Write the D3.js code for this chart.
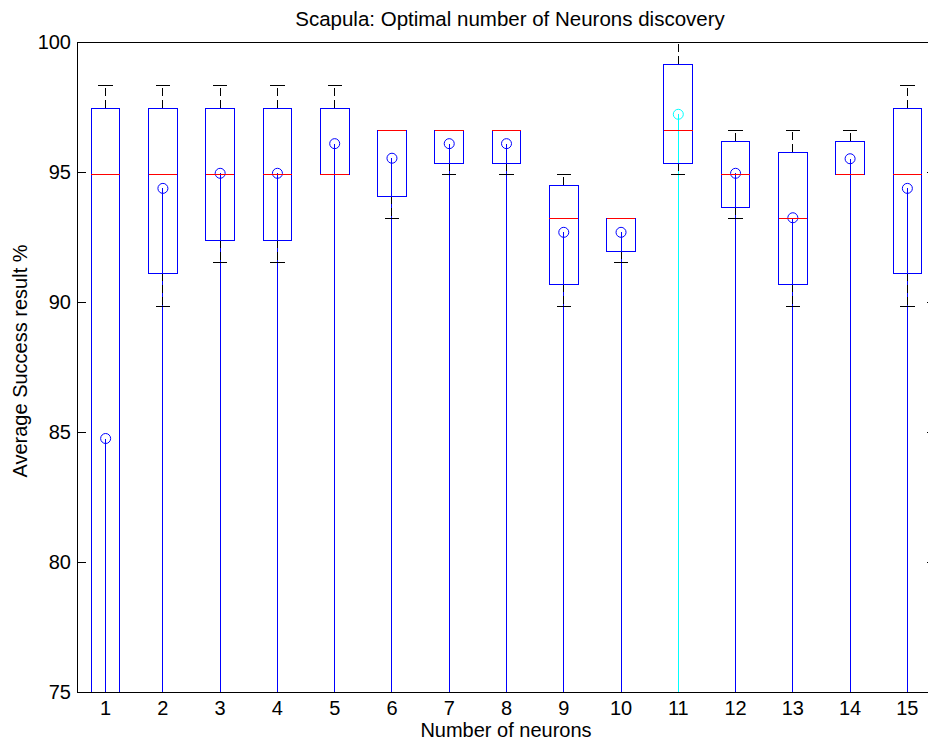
<!DOCTYPE html>
<html>
<head>
<meta charset="utf-8">
<script src="https://cdn.jsdelivr.net/npm/d3@7"></script>
<style>
  html, body { margin: 0; padding: 0; background: #fff; }
  svg { display: block; }
  text { font-family: "Liberation Sans", Arial, Helvetica, sans-serif; fill: #000; }
</style>
</head>
<body>
<svg id="chart" width="928" height="740"></svg>
<script>
// Number of hidden neurons tested
const neurons = [1, 2, 3, 4, 5, 6, 7, 8, 9, 10, 11, 12, 13, 14, 15];

// Box-plot statistics of the success rate (%) per network size
const upperWhisker = [98.31, 98.31, 98.31, 98.31, 98.31, 96.61, 96.61, 96.61, 94.92, 93.22, 100.0, 96.61, 96.61, 96.61, 98.31];
const q3           = [97.46, 97.46, 97.46, 97.46, 97.46, 96.61, 96.61, 96.61, 94.49, 93.22, 99.15, 96.19, 95.76, 96.19, 97.46];
const median       = [94.92, 94.92, 94.92, 94.92, 94.92, 96.61, 96.61, 96.61, 93.22, 93.22, 96.61, 94.92, 93.22, 94.92, 94.92];
const q1           = [70.00, 91.10, 92.37, 92.37, 94.92, 94.07, 95.34, 95.34, 90.68, 91.95, 95.34, 93.64, 90.68, 94.92, 91.10];
const lowerWhisker = [50.00, 89.83, 91.53, 91.53, 94.92, 93.22, 94.92, 94.92, 89.83, 91.53, 94.92, 93.22, 89.83, 94.92, 89.83];

// Average success per network size (drawn as stems with circle markers)
const meanSuccess  = [84.75, 94.37, 94.95, 94.95, 96.09, 95.53, 96.09, 96.09, 92.68, 92.68, 97.22, 94.95, 93.24, 95.51, 94.37];
const bestIndex = 10; // network size 11 is highlighted

// Axis ticks
const yTicks = [75, 80, 85, 90, 95, 100];

const svg = d3.select("#chart");

const padL = 77, padR = 936, padT = 42, padB = 692;

const x = d3.scaleLinear().domain([0.5, 15.5]).range([padL, padR]);
const y = d3.scaleLinear().domain([75, 100]).range([padB, padT]);
const step = x(2) - x(1);
const boxHalf = step * 0.25;
const capHalf = step * 0.125;

svg.append("defs").append("clipPath").attr("id", "plotClip")
  .append("rect").attr("x", padL).attr("y", padT)
  .attr("width", padR - padL).attr("height", padB - padT);

const plot = svg.append("g").attr("clip-path", "url(#plotClip)")
  .attr("shape-rendering", "crispEdges");

const rows = neurons.map((n, i) => ({
  n, i,
  hi: upperWhisker[i], q3: q3[i], med: median[i], q1: q1[i], lo: lowerWhisker[i],
  mean: meanSuccess[i]
}));

const stemColor = d => d.i === bestIndex ? "#00ffff" : "#0000ff";

// Stems of the mean values, rising from zero
plot.selectAll("line.stem").data(rows).join("line")
  .attr("class", "stem")
  .attr("x1", d => x(d.n)).attr("x2", d => x(d.n))
  .attr("y1", y(0)).attr("y2", d => y(d.mean))
  .attr("stroke", stemColor).attr("stroke-width", 1);

plot.selectAll("circle.mean").data(rows).join("circle")
  .attr("class", "mean")
  .attr("cx", d => x(d.n)).attr("cy", d => y(d.mean)).attr("r", 5)
  .attr("fill", "none").attr("stroke", stemColor).attr("stroke-width", 1)
  .attr("shape-rendering", "auto");

// Whiskers (dashed) and end caps
plot.selectAll("line.wup").data(rows).join("line")
  .attr("class", "wup")
  .attr("x1", d => x(d.n)).attr("x2", d => x(d.n))
  .attr("y1", d => y(d.q3)).attr("y2", d => y(d.hi))
  .attr("stroke", "#000").attr("stroke-dasharray", "8,4");

plot.selectAll("line.wlo").data(rows).join("line")
  .attr("class", "wlo")
  .attr("x1", d => x(d.n)).attr("x2", d => x(d.n))
  .attr("y1", d => y(d.q1)).attr("y2", d => y(d.lo))
  .attr("stroke", "#000").attr("stroke-dasharray", "8,4");

plot.selectAll("line.capup").data(rows).join("line")
  .attr("class", "capup")
  .attr("x1", d => x(d.n) - capHalf).attr("x2", d => x(d.n) + capHalf)
  .attr("y1", d => y(d.hi)).attr("y2", d => y(d.hi))
  .attr("stroke", "#000");

plot.selectAll("line.caplo").data(rows).join("line")
  .attr("class", "caplo")
  .attr("x1", d => x(d.n) - capHalf).attr("x2", d => x(d.n) + capHalf)
  .attr("y1", d => y(d.lo)).attr("y2", d => y(d.lo))
  .attr("stroke", "#000");

// Interquartile boxes
plot.selectAll("rect.box").data(rows).join("rect")
  .attr("class", "box")
  .attr("x", d => x(d.n) - boxHalf).attr("width", boxHalf * 2)
  .attr("y", d => y(d.q3)).attr("height", d => y(d.q1) - y(d.q3))
  .attr("fill", "none").attr("stroke", "#0000ff").attr("stroke-width", 1);

// Medians
plot.selectAll("line.median").data(rows).join("line")
  .attr("class", "median")
  .attr("x1", d => x(d.n) - boxHalf).attr("x2", d => x(d.n) + boxHalf)
  .attr("y1", d => y(d.med)).attr("y2", d => y(d.med))
  .attr("stroke", "#ff0000").attr("stroke-width", 1);

// Axes frame
const frame = svg.append("g").attr("shape-rendering", "crispEdges");
frame.append("rect").attr("x", padL).attr("y", padT)
  .attr("width", padR - padL).attr("height", padB - padT)
  .attr("fill", "none").attr("stroke", "#000").attr("stroke-width", 1);

// Left and right y axes with inward ticks
const yLeft = svg.append("g").attr("transform", `translate(${padL},0)`)
  .call(d3.axisLeft(y).tickValues(yTicks).tickSizeInner(-9).tickSizeOuter(0).tickPadding(6));
yLeft.select(".domain").remove();
yLeft.selectAll("line").attr("shape-rendering", "crispEdges");
yLeft.selectAll("text").attr("font-size", 20)
  .style("font-family", '"Liberation Sans", Arial, sans-serif').attr("fill", "#000");

const yRight = svg.append("g").attr("transform", `translate(${padR},0)`)
  .call(d3.axisRight(y).tickValues(yTicks).tickSizeInner(-9).tickSizeOuter(0).tickFormat(""));
yRight.select(".domain").remove();
yRight.selectAll("line").attr("shape-rendering", "crispEdges");

// Category labels under each box
svg.append("g").selectAll("text").data(neurons).join("text")
  .attr("x", d => x(d)).attr("y", 715)
  .attr("text-anchor", "middle").attr("font-size", 20)
  .text(d => d);

// Titles
svg.append("text").attr("x", 510).attr("y", 26)
  .attr("text-anchor", "middle").attr("font-size", 20.5)
  .text("Scapula: Optimal number of Neurons discovery");

svg.append("text").attr("x", 506).attr("y", 737)
  .attr("text-anchor", "middle").attr("font-size", 20)
  .text("Number of neurons");

svg.append("text")
  .attr("transform", "translate(27,361) rotate(-90)")
  .attr("text-anchor", "middle").attr("font-size", 20)
  .text("Average Success result %");
</script>
</body>
</html>
